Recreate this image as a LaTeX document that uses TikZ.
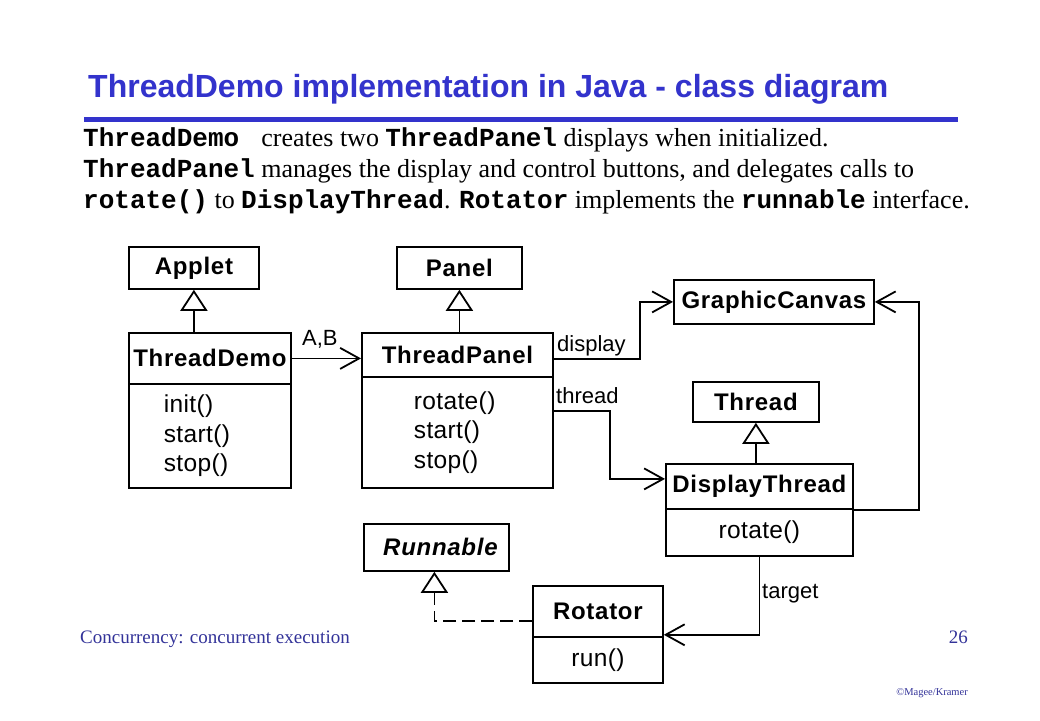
\documentclass[tikz,border=0pt]{standalone}
\usepackage{fontspec}
\setmainfont{Liberation Serif}
\setsansfont{Liberation Sans}
\setmonofont{Liberation Mono}
\newfontfamily\clsfont[LetterSpace=3]{Liberation Sans}
\newfontfamily\methfont[LetterSpace=1.5]{Liberation Sans}
\usetikzlibrary{arrows.meta}
\definecolor{titleblue}{RGB}{51,51,204}
\definecolor{footblue}{RGB}{51,51,153}
\begin{document}
\begin{tikzpicture}[x=1pt,y=-1pt,
  every node/.style={inner sep=0pt},
  cls/.style={draw, line width=1.8pt, anchor=north west, font=\clsfont\bfseries\fontsize{24}{29}\selectfont},
  meth/.style={draw, line width=1.8pt, anchor=north west, font=\methfont\fontsize{24.5}{29.5}\selectfont},
  lbl/.style={anchor=base west, font=\sffamily\fontsize{22}{26}\selectfont},
  body/.style={anchor=base west, font=\fontsize{26}{31}\selectfont},
  gen/.style={line width=1.8pt, -{Triangle[open, length=21pt, width=27pt, line width=1.8pt]}},
  assoc/.style={line width=1.8pt, -{Straight Barb[length=19pt, width=21pt, line width=1.8pt]}},
  real/.style={gen, dash pattern=on 13pt off 6pt},
]
\useasboundingbox (0,0) rectangle (1040,720);
\fill[white] (0,0) rectangle (1040,720);

% title and rule
\node[anchor=base west, text=titleblue, font=\sffamily\bfseries\fontsize{32}{38}\selectfont] (title) at (88,97) {ThreadDemo implementation in Java - class diagram};
\draw[line width=5pt, titleblue] (84,119) -- (958,119);

% description
\node[body] (l1) at (83,146) {\texttt{\bfseries ThreadDemo\ } creates two \texttt{\bfseries ThreadPanel} displays when initialized.};
\node[body] (l2) at (83,177) {\texttt{\bfseries ThreadPanel} manages the display and control buttons, and delegates calls to};
\node[body] (l3) at (83,208) {\texttt{\bfseries rotate()} to \texttt{\bfseries DisplayThread}. \texttt{\bfseries Rotator} implements the \texttt{\bfseries runnable} interface.};

% classes
\node[cls, minimum width=130pt, minimum height=42pt] (applet) at (128,246) {Applet};
\node[cls, minimum width=125pt, minimum height=42pt] (panel) at (396,246) {Panel};
\node[cls, minimum width=162pt, minimum height=51pt] (tdname) at (128,332) {ThreadDemo};
\node[meth, minimum width=162pt, minimum height=104pt, inner xsep=35pt, text width=92pt, align=left] (tdmeth) at (128,383) {init()\\start()\\stop()};
\node[cls, minimum width=191pt, minimum height=44pt] (tpname) at (361,332) {ThreadPanel};
\node[meth, minimum width=191pt, minimum height=111pt, inner xsep=52pt, text width=87pt, align=left] (tpmeth) at (361,376) {rotate()\\start()\\stop()};
\node[cls, minimum width=200pt, minimum height=44pt] (gc) at (673,279) {GraphicCanvas};
\node[cls, minimum width=126pt, minimum height=40pt] (thread) at (692,381) {Thread};
\node[cls, minimum width=187pt, minimum height=45pt] (dtname) at (665,463) {DisplayThread};
\node[meth, minimum width=187pt, minimum height=47pt] (dtmeth) at (665,508) {rotate()};
\node[cls, minimum width=145pt, minimum height=47pt, font=\clsfont\bfseries\itshape\fontsize{24}{29}\selectfont] (runn) at (363,523) {\hspace{8pt}Runnable};
\node[cls, minimum width=130pt, minimum height=51pt] (rotname) at (532,585) {Rotator};
\node[meth, minimum width=130pt, minimum height=46pt] (rotmeth) at (532,636) {run()};

% generalisations
\draw[gen] (tdname.north -| applet.south) -- (applet.south);
\draw[gen] (tpname.north -| panel.south) -- (panel.south);
\draw[gen] (dtname.north -| thread.south) -- (thread.south);
\draw[real] ([yshift=-9.5pt]rotname.west) -| ([xshift=-2pt]runn.south);

% associations
\draw[assoc] (tdname.east) -- (tdname.east -| tpname.west);
\node[lbl] (ab) at (302,345) {A,B};
\draw[assoc] ([yshift=-4pt]tpname.east) -- ++(86,0) |- (gc.west);
\node[lbl] (disp) at (557,351) {display};
\draw[assoc] ([yshift=21.5pt]tpmeth.east) -- ++(56,0) |- ([yshift=7.5pt]dtname.west);
\node[lbl] (thr) at (556,403) {thread};
\draw[assoc] (dtname.south east) -- ++(65,0) |- (gc.east);
\draw[assoc] (dtmeth.south) |- ([yshift=3pt]rotname.south east);
\node[lbl] (tgt) at (762,598) {target};

% footer
\node[anchor=base west, text=footblue, font=\fontsize{19}{22}\selectfont] (foot) at (80,643) {Concurrency: concurrent execution};
\node[anchor=base east, text=footblue, font=\fontsize{19}{22}\selectfont] (page) at (968,643) {26};
\node[anchor=base east, text=footblue, font=\fontsize{10.5}{12}\selectfont] (copy) at (968,695) {©Magee/Kramer};
\end{tikzpicture}
\end{document}
